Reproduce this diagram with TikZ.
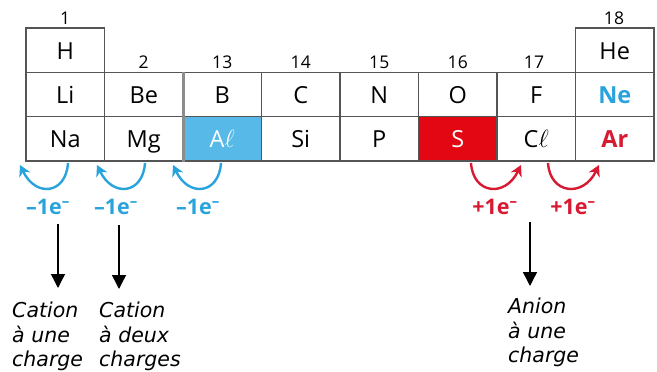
\documentclass[tikz,border=0pt]{standalone}
\usepackage{fontspec}
\setmainfont{Open Sans}
\newfontfamily\labfont{DejaVu Sans}
\usetikzlibrary{arrows.meta,calc}
\definecolor{cellline}{RGB}{85,85,85}
\definecolor{sepgray}{RGB}{140,140,140}
\definecolor{eblue}{RGB}{41,163,220}
\definecolor{alfill}{RGB}{86,185,232}
\definecolor{ered}{RGB}{215,25,50}
\definecolor{sfill}{RGB}{227,6,19}
\begin{document}
\begin{tikzpicture}[x=1pt,y=-1pt,
 cell/.style={draw=cellline,line width=1.3pt,minimum width=78.5pt,minimum height=44.3pt,inner sep=0pt,font=\fontsize{23.5}{25}\selectfont,text height=18pt,text depth=0pt},
 grp/.style={font=\fontsize{17.5}{19}\selectfont,anchor=base,inner sep=0pt},
 chg/.style={font=\bfseries\fontsize{21.5}{23}\selectfont,anchor=base,inner sep=0pt},
 lab/.style={font=\labfont\itshape\fontsize{20.5}{24.5}\selectfont,align=left,anchor=north west,inner sep=0pt},
 bendarrow/.style={line width=2.4pt,-{Stealth[length=11pt,width=12pt]}},
 downarrow/.style={line width=1.4pt,-{Triangle[length=14pt,width=14pt]}}]
\useasboundingbox (0,0) rectangle (657,372);
% row 1
\node[cell] (H) at (65.25,50.15) {H};
\node[cell] (He) at (614.75,50.15) {He};
% row 2
\node[cell] (Li) at (65.25,94.45) {Li};
\node[cell] (Be) at (143.75,94.45) {Be};
\node[cell] (B) at (222.25,94.45) {B};
\node[cell] (C) at (300.75,94.45) {C};
\node[cell] (N) at (379.25,94.45) {N};
\node[cell] (O) at (457.75,94.45) {O};
\node[cell] (F) at (536.25,94.45) {F};
\node[cell,text=eblue,font=\bfseries\fontsize{23.5}{25}\selectfont] (Ne) at (614.75,94.45) {Ne};
% row 3
\node[cell] (Na) at (65.25,138.8) {Na};
\node[cell] (Mg) at (143.75,138.8) {Mg};
\node[cell,fill=alfill,text=white] (Al) at (222.25,138.8) {A$\ell$};
\node[cell] (Si) at (300.75,138.8) {Si};
\node[cell] (P) at (379.25,138.8) {P};
\node[cell,fill=sfill,text=white] (S) at (457.75,138.8) {S};
\node[cell] (Cl) at (536.25,138.8) {C$\ell$};
\node[cell,text=ered,font=\bfseries\fontsize{23.5}{25}\selectfont] (Ar) at (614.75,138.8) {Ar};
\draw[sepgray,line width=3pt] (Be.north east) -- (Mg.south east);
% group numbers
\node[grp] (g1) at (65.25,24) {1};
\node[grp] (g2) at (143.75,68) {2};
\node[grp] (g13) at (222.25,68) {13};
\node[grp] (g14) at (300.75,68) {14};
\node[grp] (g15) at (379.25,68) {15};
\node[grp] (g16) at (457.75,68) {16};
\node[grp] (g17) at (534,68) {17};
\node[grp] (g18) at (614,24) {18};
% bent arrows
\coordinate (b1s) at (68,163); \coordinate (b1t) at (20,165);
\coordinate (b2s) at (145,163); \coordinate (b2t) at (97,165);
\coordinate (b3s) at (221,163); \coordinate (b3t) at (173,165);
\coordinate (r1s) at (471,163); \coordinate (r1t) at (521,165);
\coordinate (r2s) at (548,163); \coordinate (r2t) at (599,165);
\draw[bendarrow,eblue] (b1s) .. controls ($(b1s)+(-2,31)$) and ($(b1t)+(16,33)$) .. (b1t);
\draw[bendarrow,eblue] (b2s) .. controls ($(b2s)+(-2,31)$) and ($(b2t)+(16,33)$) .. (b2t);
\draw[bendarrow,eblue] (b3s) .. controls ($(b3s)+(-2,31)$) and ($(b3t)+(16,33)$) .. (b3t);
\draw[bendarrow,ered] (r1s) .. controls ($(r1s)+(2,31)$) and ($(r1t)+(-16,33)$) .. (r1t);
\draw[bendarrow,ered] (r2s) .. controls ($(r2s)+(2,31)$) and ($(r2t)+(-16,33)$) .. (r2t);
% charge labels
\node[chg,text=eblue] (c1) at (48,214) {–1e\textsuperscript{–}};
\node[chg,text=eblue] (c2) at (116,214) {–1e\textsuperscript{–}};
\node[chg,text=eblue] (c3) at (198,214) {–1e\textsuperscript{–}};
\node[chg,text=ered] (c4) at (495,214) {+1e\textsuperscript{–}};
\node[chg,text=ered] (c5) at (573,214) {+1e\textsuperscript{–}};
% black arrows
\coordinate (d1s) at (58,224); \coordinate (d1t) at (58,288);
\coordinate (d2s) at (119,225); \coordinate (d2t) at (119,289);
\coordinate (d3s) at (530,222); \coordinate (d3t) at (530,286);
\draw[downarrow] (d1s) -- (d1t);
\draw[downarrow] (d2s) -- (d2t);
\draw[downarrow] (d3s) -- (d3t);
% texts
\node[lab] (t1) at (12,302) {Cation\\à une\\charge};
\node[lab] (t2) at (99,302) {Cation\\à deux\\charges};
\node[lab] (t3) at (508,298) {Anion\\à une\\charge};
\end{tikzpicture}
\end{document}
